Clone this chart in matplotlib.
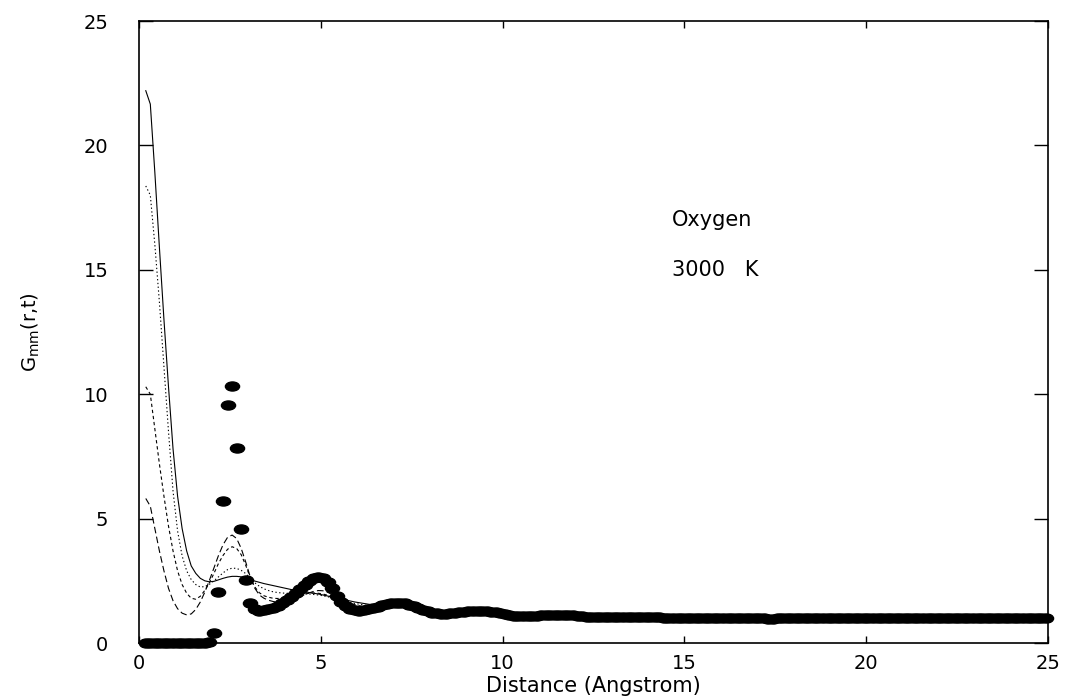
import numpy as np
import matplotlib
matplotlib.use("Agg")
import matplotlib.pyplot as plt
from matplotlib.path import Path

plt.rcParams['font.family'] = ['DejaVu Sans']
plt.rcParams['mathtext.fontset'] = 'dejavusans'

# radial grid (Angstrom)
r_grid = 0.1875 + 0.125 * np.arange(199)

# Gs(r,0)-like static curve (filled markers)
g_static = [
    0, 0, 0, 0, 0, 0, 0, 0, 0, 0, 0, 0, 0, 0, 0.03,
    0.39, 2.05, 5.71, 9.57, 10.33, 7.84, 4.60, 2.53, 1.60, 1.35,
    1.30, 1.32, 1.36, 1.42, 1.50, 1.60, 1.72, 1.85, 2.00, 2.17,
    2.35, 2.50, 2.60, 2.65, 2.60, 2.45, 2.20, 1.90, 1.65, 1.48,
    1.38, 1.32, 1.30, 1.31, 1.35, 1.40, 1.46, 1.52, 1.56, 1.59,
    1.61, 1.61, 1.59, 1.54, 1.48, 1.41, 1.34, 1.27, 1.22, 1.19,
    1.18, 1.18, 1.19, 1.21, 1.23, 1.25, 1.27, 1.28, 1.29, 1.29,
    1.28, 1.26, 1.23, 1.19, 1.15, 1.12, 1.10, 1.09, 1.08, 1.08,
    1.09, 1.10, 1.11, 1.12, 1.13, 1.14, 1.14, 1.14, 1.13, 1.12,
    1.10, 1.08, 1.06, 1.05, 1.04, 1.03, 1.03, 1.03, 1.04, 1.04,
    1.05, 1.05, 1.06, 1.06, 1.06, 1.05, 1.05, 1.04, 1.03, 1.02,
    1.01, 1.00, 1.00, 0.99, 0.99, 0.99, 1.00, 1.00, 1.01, 1.01,
    1.02, 1.02, 1.02, 1.02, 1.02, 1.01, 1.01, 1.00, 1.00, 0.99,
    0.99, 0.99, 0.98, 0.98, 0.99, 0.99, 0.99, 0.99, 1.00, 1.00,
    1.01, 1.01, 1.01, 1.01, 1.01, 1.00, 1.00, 1.00, 0.99, 0.99,
    0.99, 0.99, 0.99, 0.99, 1.00, 1.00, 1.00, 1.01, 1.01, 1.01,
    1.00, 1.00, 1.00, 1.00, 0.99, 0.99, 0.99, 0.99, 0.99, 1.00,
    1.00, 1.00, 1.00, 1.00, 1.00, 1.00, 1.00, 0.99, 0.99, 0.99,
    0.99, 1.00, 1.00, 1.00, 1.00, 1.00, 1.00, 1.00, 0.99, 0.99,
    0.99, 0.99, 0.99, 0.99,
]

# time-dependent curves
g_t1 = [22.2, 21.66, 18.9, 15.9, 13.0, 10.3, 7.8, 5.9, 4.6, 3.7,
        3.1, 2.8, 2.6, 2.5, 2.46, 2.48, 2.54, 2.6, 2.65, 2.68,
        2.68, 2.66, 2.61, 2.55, 2.49, 2.44, 2.39, 2.35, 2.31, 2.27,
        2.23, 2.19, 2.15, 2.12, 2.09, 2.06, 2.03, 2.00, 1.97, 1.93,
        1.89, 1.85, 1.81, 1.77, 1.73, 1.69, 1.65, 1.62, 1.59, 1.56,
        1.53, 1.51, 1.49, 1.47, 1.46, 1.45, 1.44, 1.43, 1.42, 1.41, 1.40]
g_t2 = [18.37, 18.0, 16.0, 13.7, 11.1, 8.5, 6.1, 4.5, 3.5, 2.9,
        2.55, 2.35, 2.25, 2.27, 2.36, 2.5, 2.66, 2.82, 2.95, 3.01,
        3.0, 2.92, 2.79, 2.6, 2.42, 2.28, 2.18, 2.11, 2.06, 2.03,
        2.01, 2.0, 1.99, 1.99, 1.99, 1.98, 1.97, 1.95, 1.93, 1.9,
        1.86, 1.82, 1.77, 1.72, 1.67, 1.63, 1.59, 1.56, 1.53, 1.5,
        1.48, 1.47, 1.46, 1.45, 1.45, 1.45, 1.44, 1.43, 1.42, 1.40, 1.38]
g_t3 = [10.3, 10.0, 8.6, 7.2, 5.9, 4.7, 3.7, 2.9, 2.35, 2.0,
        1.8, 1.76, 1.88, 2.12, 2.42, 2.8, 3.2, 3.52, 3.77, 3.87,
        3.8, 3.55, 3.12, 2.62, 2.25, 2.02, 1.9, 1.84, 1.8, 1.79,
        1.8, 1.82, 1.85, 1.89, 1.93, 1.97, 2.0, 2.01, 2.0, 1.97,
        1.92, 1.86, 1.79, 1.72, 1.65, 1.59, 1.54, 1.5, 1.47, 1.45,
        1.44, 1.44, 1.45, 1.46, 1.46, 1.46, 1.45, 1.44, 1.42, 1.40, 1.38]
g_t4 = [5.81, 5.5, 4.6, 3.7, 2.9, 2.2, 1.7, 1.38, 1.2, 1.13,
        1.17, 1.35, 1.65, 2.05, 2.52, 3.02, 3.52, 3.95, 4.25, 4.34,
        4.2, 3.8, 3.25, 2.65, 2.2, 1.93, 1.8, 1.72, 1.67, 1.64,
        1.64, 1.67, 1.72, 1.79, 1.87, 1.95, 2.02, 2.08, 2.11, 2.1,
        2.04, 1.95, 1.84, 1.72, 1.61, 1.52, 1.45, 1.41, 1.39, 1.39,
        1.40, 1.42, 1.45, 1.47, 1.49, 1.50, 1.49, 1.47, 1.44, 1.41, 1.37]

x_ticks = [0, 5, 10, 15, 20, 25]
y_ticks = [0, 5, 10, 15, 20, 25]

fig = plt.figure(figsize=(10.73, 6.96), dpi=100)
ax = fig.add_axes([0.1295, 0.0761, 0.8472, 0.8937])

lw = 0.8
n = len(g_t1)
ax.plot(r_grid[:n], g_t1, color='black', lw=lw, ls='-')
ax.plot(r_grid[:n], g_t2, color='black', lw=lw, ls=(0, (1.2, 2.2)))
ax.plot(r_grid[:n], g_t3, color='black', lw=lw, ls=(0, (3, 2.5)))
ax.plot(r_grid[:n], g_t4, color='black', lw=lw, ls=(0, (6, 3)))

circ = Path.unit_circle()
ell = Path(circ.vertices * np.array([1.0, 0.64]), circ.codes)
ax.plot(r_grid, g_static, ls='none', marker=ell, markersize=10.2,
        color='black', zorder=5, clip_on=False)

ax.set_xlim(0, 25)
ax.set_ylim(0, 25)
ax.set_xticks(x_ticks)
ax.set_yticks(y_ticks)
ax.tick_params(axis='both', direction='in', top=True, right=True,
               labelsize=14, width=1)
ax.tick_params(axis='y', length=10, pad=22)
ax.tick_params(axis='x', length=5, pad=8)
for s in ax.spines.values():
    s.set_linewidth(1.2)

ax.set_xlabel('Distance (Angstrom)', fontsize=15, labelpad=2)
ax.set_ylabel(r'G$_{\rm mm}$(r,t)', fontsize=14, labelpad=30)

ax.text(14.66, 17.0, 'Oxygen', fontsize=15, va='center', ha='left')
ax.text(14.66, 15.0, '3000   K', fontsize=15, va='center', ha='left')

fig.savefig('out.png', dpi=100)
